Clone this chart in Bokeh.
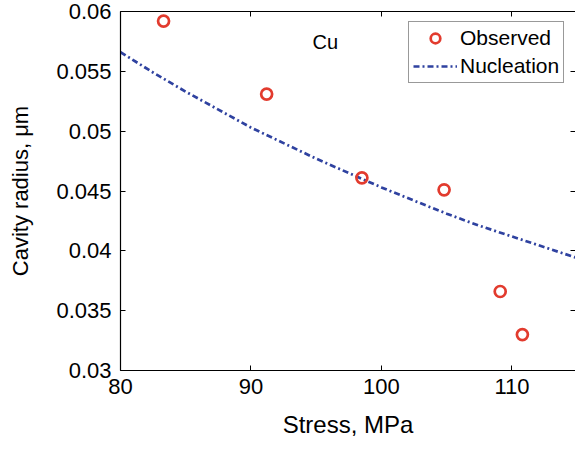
from bokeh.plotting import figure
from bokeh.models import (LinearAxis, FixedTicker, Legend, LegendItem, Label,
                          ColumnDataSource, Range1d)
from bokeh.embed import file_html
from bokeh.resources import INLINE

# ---- data ----
obs_stress = [83.3, 91.2, 98.5, 104.8, 109.1, 110.8]
obs_radius = [0.0592, 0.0531, 0.0461, 0.0451, 0.0366, 0.0330]

nuc_stress = [80, 82.5, 85, 87.5, 90, 92.5, 95, 97.5, 100, 102.5, 105, 107.5, 110, 112.5, 115]
nuc_radius = [0.0566, 0.0549, 0.0533, 0.0518, 0.0503, 0.0490, 0.0477, 0.0465,
              0.0453, 0.0442, 0.0431, 0.0421, 0.0412, 0.0403, 0.0394]

x_ticks = [80, 90, 100, 110]
x_tick_labels = ["80", "90", "100", "110"]
y_ticks = [0.03, 0.035, 0.04, 0.045, 0.05, 0.055, 0.06]
y_tick_labels = ["0.03", "0.035", "0.04", "0.045", "0.05", "0.055", "0.06"]

FONT = "Liberation Sans"
RED = "#e23b2e"
BLUE = "#2f42a0"

p = figure(width=575, height=450, output_backend="svg", toolbar_location=None,
           x_range=Range1d(80, 114.87), y_range=Range1d(0.03, 0.06),
           min_border_left=120, min_border_right=0, min_border_top=11,
           min_border_bottom=80, x_axis_location=None, y_axis_location=None)
p.grid.visible = False
p.outline_line_color = None
p.background_fill_color = "white"
p.border_fill_color = "white"

def style_axis(ax, ticks, labels, show_labels=True, show_line=True):
    ax.ticker = FixedTicker(ticks=ticks)
    ax.major_label_overrides = {t: l for t, l in zip(ticks, labels)}
    ax.major_tick_in = 5
    ax.major_tick_out = 0
    ax.minor_tick_line_color = None
    ax.major_tick_line_color = "black"
    ax.major_tick_line_width = 1
    ax.axis_line_color = "black" if show_line else None
    ax.axis_line_width = 1.2
    ax.major_label_text_font = FONT
    ax.major_label_text_font_size = "22px"
    ax.major_label_text_color = "black"
    if not show_labels:
        ax.major_label_text_font_size = "0px"
        ax.major_label_text_color = None

bottom = LinearAxis(axis_label="Stress, MPa")
style_axis(bottom, x_ticks, x_tick_labels)
bottom.major_label_standoff = 8
bottom.axis_label_text_font = FONT
bottom.axis_label_text_font_size = "24px"
bottom.axis_label_text_font_style = "normal"
bottom.axis_label_text_color = "black"
bottom.axis_label_standoff = 14
p.add_layout(bottom, "below")

left = LinearAxis(axis_label="Cavity radius, μm")
style_axis(left, y_ticks, y_tick_labels)
left.major_label_standoff = 9
left.axis_label_text_font = FONT
left.axis_label_text_font_size = "22px"
left.axis_label_text_font_style = "normal"
left.axis_label_text_color = "black"
left.axis_label_standoff = 20
p.add_layout(left, "left")

top = LinearAxis()
style_axis(top, x_ticks, x_tick_labels, show_labels=False)
top.major_label_standoff = 0
p.add_layout(top, "above")

right = LinearAxis()
style_axis(right, y_ticks, y_tick_labels, show_labels=False, show_line=False)
right.major_label_standoff = 0
p.add_layout(right, "right")

nuc_src = ColumnDataSource(dict(x=nuc_stress, y=nuc_radius))
obs_src = ColumnDataSource(dict(x=obs_stress, y=obs_radius))

r_nuc = p.line("x", "y", source=nuc_src, line_color=BLUE, line_width=2.7,
               line_dash="6 3 2 3")
r_obs = p.scatter("x", "y", source=obs_src, marker="circle", size=11,
                  fill_color=None, line_color=RED, line_width=2.7)

p.add_layout(Label(x=95.7, y=0.05744, text="Cu", text_font=FONT,
                   text_font_size="20px", text_align="center",
                   text_baseline="middle", text_color="black"))

legend = Legend(items=[LegendItem(label="Observed", renderers=[r_obs]),
                       LegendItem(label="Nucleation", renderers=[r_nuc])],
                location=(288, 287))
legend.label_text_font = FONT
legend.label_text_font_size = "21px"
legend.label_text_color = "black"
legend.label_standoff = 3
legend.glyph_width = 44
legend.glyph_height = 24
legend.label_height = 24
legend.spacing = 4
legend.padding = 4
legend.margin = 0
legend.border_line_color = "#333333"
legend.border_line_width = 1
legend.background_fill_alpha = 1
p.add_layout(legend, "center")

open("out.html", "w").write(file_html(p, INLINE))
